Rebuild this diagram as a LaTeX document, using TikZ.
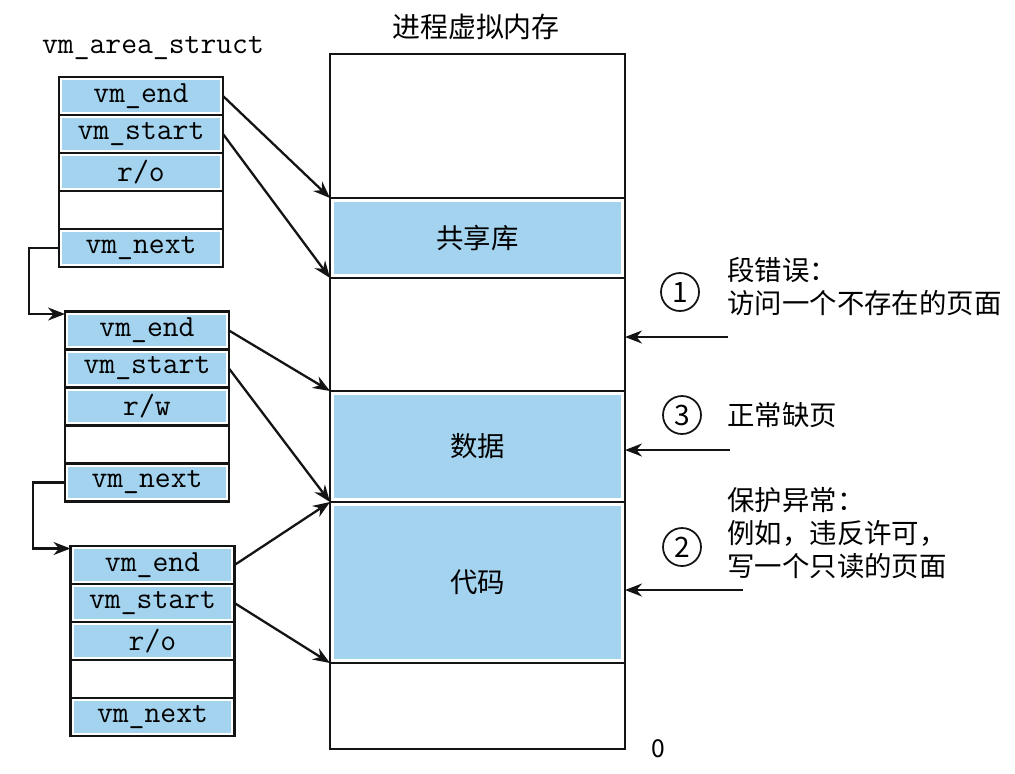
\documentclass[tikz,border=0pt]{standalone}
\usepackage{fontspec}
\newfontfamily\cjk{Noto Sans CJK SC}
\usetikzlibrary{arrows.meta, positioning, calc}
\definecolor{cellblue}{HTML}{A3D3EE}
\definecolor{inkblack}{HTML}{141414}

\begin{document}
\begin{tikzpicture}[
  >={Stealth[length=3.4mm, width=2.6mm]},
  node distance=0pt,
  field/.style={draw=inkblack, line width=1.3pt, rectangle, outer sep=0pt, inner sep=0pt,
    minimum width=3.28cm, minimum height=0.76cm, font=\fontsize{17.5}{18}\selectfont\ttfamily},
  bluefield/.style={field, path picture={\fill[cellblue]
    ([shift={(1.8pt,1.8pt)}]path picture bounding box.south west) rectangle
    ([shift={(-1.8pt,-1.8pt)}]path picture bounding box.north east);}},
  region/.style={draw=inkblack, line width=1.3pt, rectangle, outer sep=0pt, inner sep=0pt,
    minimum width=5.9cm, minimum height=#1, font=\cjk\fontsize{15.6}{18}\selectfont},
  blueregion/.style={region=#1, path picture={\fill[cellblue]
    ([shift={(2.5pt,2.2pt)}]path picture bounding box.south west) rectangle
    ([shift={(-2.5pt,-2.2pt)}]path picture bounding box.north east);}},
  arr/.style={->, line width=1.3pt, inkblack},
  num/.style={circle, draw=inkblack, line width=1pt, minimum size=0.76cm, inner sep=0pt,
    font=\cjk\fontsize{16}{16}\selectfont},
  note/.style={anchor=west, align=left, inner sep=0pt, font=\cjk\fontsize{15.6}{18.8}\selectfont},
]

% Canvas
\useasboundingbox[fill=white] (0,0) rectangle (20.3,-15.46);

% =============================================
% Process virtual memory
% =============================================
\node[font=\cjk\fontsize{15.9}{18}\selectfont] (memtitle) at (9.52,-0.54) {进程虚拟内存};

\node[region=2.88cm] (memtop) at (9.55,-2.52) {};
\node[blueregion=1.6cm, below=of memtop] (shlib) {共享库};
\node[region=2.26cm, below=of shlib] (memgap) {};
\node[blueregion=2.22cm, below=of memgap] (data) {数据};
\node[blueregion=3.22cm, below=of data] (code) {代码};
\node[region=1.72cm, below=of code] (membot) {};

\node[font=\cjk\fontsize{14}{14}\selectfont, anchor=west] (zero)
  at ([xshift=0.4cm]membot.south east) {0};

% =============================================
% vm_area_struct list
% =============================================
\node[font=\fontsize{17.5}{18}\selectfont\ttfamily] (structlbl) at (3.06,-0.96) {vm\_area\_struct};

% First struct (shared library)
\node[bluefield] (a1end) at (2.82,-1.92) {vm\_end};
\node[bluefield, below=of a1end] (a1start) {vm\_start};
\node[bluefield, below=of a1start] (a1perm) {r/o};
\node[field, below=of a1perm] (a1blank) {};
\node[bluefield, below=of a1blank] (a1next) {vm\_next};

% Second struct (data)
\node[bluefield] (a2end) at (2.94,-6.61) {vm\_end};
\node[bluefield, below=of a2end] (a2start) {vm\_start};
\node[bluefield, below=of a2start] (a2perm) {r/w};
\node[field, below=of a2perm] (a2blank) {};
\node[bluefield, below=of a2blank] (a2next) {vm\_next};

% Third struct (code)
\node[bluefield] (a3end) at (3.05,-11.30) {vm\_end};
\node[bluefield, below=of a3end] (a3start) {vm\_start};
\node[bluefield, below=of a3start] (a3perm) {r/o};
\node[field, below=of a3perm] (a3blank) {};
\node[bluefield, below=of a3blank] (a3next) {vm\_next};

% Next pointers
\draw[arr] (a1next.west) -- ++(-0.6,0) |- ([yshift=-0.05cm]a2end.north west);
\draw[arr] (a2next.west) -- ++(-0.64,0) |- ([yshift=-0.05cm]a3end.north west);

% Area bounds
\draw[arr] (a1end.east) -- (shlib.north west);
\draw[arr] (a1start.east) -- (shlib.south west);
\draw[arr] (a2end.east) -- (data.north west);
\draw[arr] (a2start.east) -- (data.south west);
\draw[arr] (a3end.east) -- (code.north west);
\draw[arr] (a3start.east) -- (code.south west);

% =============================================
% Faults
% =============================================
\node[num] (c1) at (13.6,-5.84) {1};
\node[note] (f1) at (14.54,-5.73) {段错误：\\访问一个不存在的页面};
\coordinate (t1) at (14.56,-6.74);
\draw[arr] (t1) -- (t1 -| memgap.east);

\node[num] (c3) at (13.64,-8.3) {3};
\node[note] (f3) at (14.54,-8.3) {正常缺页};
\coordinate (t3) at (14.6,-9.0);
\draw[arr] (t3) -- (t3 -| data.east);

\node[num] (c2) at (13.64,-10.94) {2};
\node[note] (f2) at (14.54,-10.66) {保护异常：\\例如，违反许可，\\写一个只读的页面};
\coordinate (t2) at (14.86,-11.8);
\draw[arr] (t2) -- (t2 -| code.east);

\end{tikzpicture}
\end{document}
